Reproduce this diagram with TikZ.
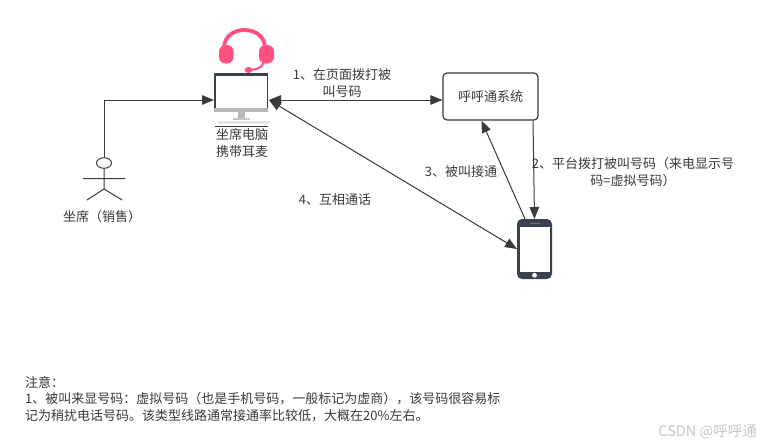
\documentclass[tikz,border=0pt]{standalone}
\usepackage{fontspec}
\setmainfont{Noto Sans CJK SC}
\usetikzlibrary{arrows.meta,calc,shapes.geometric}
\definecolor{ink}{HTML}{3A3A3A}
\definecolor{device}{HTML}{3B4150}
\definecolor{pinkset}{HTML}{FF5080}
\tikzset{
  x=1pt,y=-1pt,
  conn/.style={draw=ink,line width=1pt,>={Triangle[length=12pt,width=9.5pt,fill=ink]}},
  lbl/.style={text=ink,font=\fontsize{13}{16.5}\selectfont,inner sep=0pt,align=center},
  anchorbox/.style={draw=none,fill=none,inner sep=0pt,outer sep=0pt,rectangle}
}
\begin{document}
\begin{tikzpicture}
\useasboundingbox (0,0) rectangle (763,447);
\fill[white] (0,0) rectangle (763,447);
% headset
\draw[pinkset,line width=3.8pt] (224,48) .. controls (224,24) and (265,24) .. (265,48);
\fill[pinkset,rounded corners=6.5pt] (219,45) rectangle (233.5,63.5);
\fill[pinkset,rounded corners=6.5pt] (259,45) rectangle (274,63.5);
\draw[pinkset,line width=2pt] (264,62) .. controls (262,68) and (256,70) .. (249,70);
\fill[pinkset] (248.5,70) ellipse (3.8 and 3);
% monitor
\fill[device] (214,73) rectangle (268,108);
\fill[white] (215.5,76) rectangle (266.5,108);
\fill[black!28] (214,108) rectangle (268,112);
\fill[black!28] (238,112) rectangle (245,118);
\fill[black!22] (233,118) rectangle (250,120);
\fill[black!10] (218,121) rectangle (270,124);
\draw[ink,line width=0.5pt] (215,126) -- (268,126);
\node[anchorbox,minimum width=54pt,minimum height=54pt] (mon) at (241,100) {};
% phone
\fill[device,rounded corners=5pt] (517,219) rectangle (552,279);
\fill[white] (519.5,227) rectangle (550,272);
\fill[white] (534.5,275.3) circle (2.4);
\fill[black!55] (530,223) rectangle (540,224.2);
\node[anchorbox,minimum width=35pt,minimum height=60pt] (phone) at (534.5,249) {};
% system box
\node[draw=ink,line width=1.2pt,fill=white,rounded corners=4pt,minimum width=95pt,minimum height=47pt,lbl] (sys) at (490.5,96.5) {呼呼通系统};
% person
\node[draw=ink,line width=1pt,ellipse,inner sep=0pt,minimum width=15pt,minimum height=10.6pt] (head) at (104,163) {};
\coordinate (hip) at (104,189);
\draw[ink,line width=1pt] (head.south) -- (hip) (83,178.7) -- (125,178.7) (87,200) -- (hip) -- (122,200);
% connectors
\coordinate (sysIn) at ($(sys.south)+(-9,0)$);
\coordinate (sysOut) at ($(sys.south)+(42.5,0)$);
\coordinate (sysLeft) at ($(sys.west)+(0,3.5)$);
\coordinate (phoneTop) at ($(phone.north)+(-9.5,0)$);
\coordinate (monRight) at ($(mon.east)+(1,0)$);
\draw[conn,->] (head.north) -- (104,100) -- (mon.west);
\draw[conn,<->] (monRight) -- (sysLeft);
\draw[conn,->] (sysOut) -- (phone.north);
\draw[conn,->] (phoneTop) -- (sysIn);
\draw[conn,<->] (monRight) -- (phone.west);
% labels
\node[lbl] (l1) at (342,83) {1、在页面拨打被\\叫号码};
\node[lbl] (l2) at (633,172) {2、平台拨打被叫号码（来电显示号\\码=虚拟号码）};
\node[lbl] (l3) at (461,172) {3、被叫接通};
\node[lbl] (l4) at (335,200) {4、互相通话};
\node[lbl] (l5) at (242,143) {坐席电脑\\携带耳麦};
\node[lbl] (l6) at (102,217) {坐席（销售）};
\node[lbl,align=left,anchor=north west] (note) at (25,376) {注意：\\1、被叫来显号码：虚拟号码（也是手机号码，一般标记为虚商），该号码很容易标\\记为稍扰电话号码。该类型线路通常接通率比较低，大概在20\%左右。};
\node[inner sep=0pt,text=black!22,font=\fontsize{14.5}{16}\selectfont,anchor=east] (wm) at (757,432) {CSDN @呼呼通};
\end{tikzpicture}
\end{document}
